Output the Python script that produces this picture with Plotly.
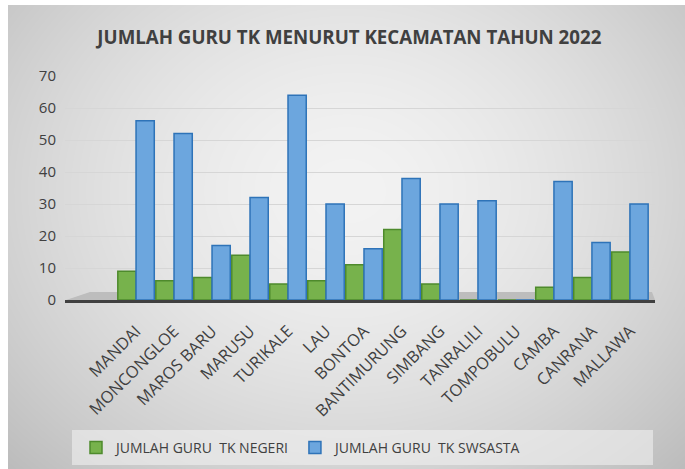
import base64, zlib, struct
import numpy as np
import plotly.graph_objects as go

categories = ["MANDAI", "MONCONGLOE", "MAROS BARU", "MARUSU", "TURIKALE", "LAU", "BONTOA",
              "BANTIMURUNG", "SIMBANG", "TANRALILI", "TOMPOBULU", "CAMBA", "CANRANA", "MALLAWA"]
negeri = [9, 6, 7, 14, 5, 6, 11, 22, 5, 0, 0, 4, 7, 15]
swasta = [56, 52, 17, 32, 64, 30, 16, 38, 30, 31, 0, 37, 18, 30]
y_ticks = [0, 10, 20, 30, 40, 50, 60, 70]

W, H = 685, 469
L, R, T, B = 65, 30, 76, 169
PW, PH = W - L - R, H - T - B


def px(x):
    return (x - L) / PW


def py(y):
    return (T + PH - y) / PH


# radial gradient background image
def make_png(w, h):
    yy, xx = np.mgrid[0:h, 0:w]
    cx, cy = w * 0.5, h * 0.4
    d = np.sqrt(((xx - cx) / (w * 0.62)) ** 2 + ((yy - cy) / (h * 0.75)) ** 2)
    v = 243 - 45 * np.clip(d, 0, 1.2) ** 1.6
    v = np.clip(v, 0, 255).astype(np.uint8)
    raw = b"".join(b"\x00" + bytes(np.repeat(row, 3)) for row in v)

    def chunk(t, d):
        c = struct.pack(">I", len(d)) + t + d
        return c + struct.pack(">I", zlib.crc32(t + d) & 0xffffffff)
    png = b"\x89PNG\r\n\x1a\n" + chunk(b"IHDR", struct.pack(">IIBBBBB", w, h, 8, 2, 0, 0, 0))
    png += chunk(b"IDAT", zlib.compress(raw, 9)) + chunk(b"IEND", b"")
    return "data:image/png;base64," + base64.b64encode(png).decode()


bg = make_png(W - 8, H - 5)

fig = go.Figure()
fig.add_trace(go.Bar(x=categories, y=negeri, name="JUMLAH GURU\u00a0 TK NEGERI",
                     marker=dict(color="#77B24C", line=dict(color="#4E8A2C", width=1.5))))
fig.add_trace(go.Bar(x=categories, y=swasta, name="JUMLAH GURU\u00a0 TK SWSASTA",
                     marker=dict(color="#6CA6DE", line=dict(color="#2E73B8", width=1.5))))

fig.update_layout(
    width=W, height=H,
    margin=dict(l=L, r=R, t=T, b=B, autoexpand=False),
    paper_bgcolor="#FFFFFF",
    plot_bgcolor="rgba(0,0,0,0)",
    barmode="group", bargap=0.04, bargroupgap=0.0,
    font=dict(family="Open Sans", color="#404040"),
    title=dict(text="<b>JUMLAH GURU TK MENURUT KECAMATAN TAHUN 2022</b>",
               x=0.51, xanchor="center", y=1 - 37 / H, yanchor="middle",
               font=dict(family="Open Sans", size=18.7, color="#404040")),
    xaxis=dict(range=[-1.87, 13.66], tickangle=-45, tickfont=dict(size=16.5, color="#404040"),
               showgrid=False, showline=True, linecolor="#404040", linewidth=3, ticks="",
               ticklabelstandoff=12, automargin=False),
    yaxis=dict(range=[0, 70], tickvals=y_ticks, tickfont=dict(size=15, color="#404040"),
               showgrid=True, gridcolor="#D6D6D6", gridwidth=1.2, zeroline=False,
               ticklabelstandoff=8, automargin=False),
    legend=dict(orientation="h", x=px(76), xanchor="left", y=py(448), yanchor="middle",
                font=dict(size=14, color="#404040"), bgcolor="rgba(0,0,0,0)",
                traceorder="normal"),
    images=[dict(source=bg, xref="paper", yref="paper",
                 x=(8 - L) / PW, y=1 + (T - 5) / PH, sizex=(W - 8) / PW, sizey=(H - 5) / PH,
                 xanchor="left", yanchor="top", sizing="stretch", layer="below")],
    shapes=[
        dict(type="rect", xref="paper", yref="paper",
             x0=px(72), x1=px(653), y0=py(465), y1=py(430),
             fillcolor="rgba(240,240,240,0.6)", line=dict(width=0), layer="below"),
        dict(type="path", xref="paper", yref="paper",
             path=f"M {px(66)} {py(300)} L {px(90)} {py(292)} L {px(652)} {py(292)} L {px(655)} {py(300)} Z",
             fillcolor="#BDBDBD", line=dict(width=0), layer="below"),
    ],
)

fig.write_html("out.html", config={"displayModeBar": False},
               post_script="document.body.style.margin='0';")
